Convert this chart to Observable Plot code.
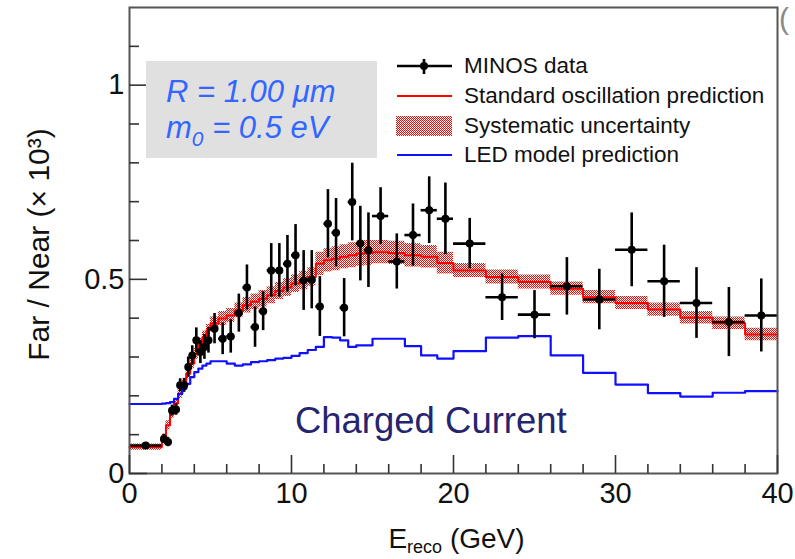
<!DOCTYPE html>
<html>
<head>
<meta charset="utf-8">
<script src="https://cdn.jsdelivr.net/npm/d3@7"></script>
<script src="https://cdn.jsdelivr.net/npm/@observablehq/plot@0.6"></script>
<style>
  html, body { margin: 0; padding: 0; background: #fff; }
  #chart { position: relative; width: 795px; height: 559px; overflow: hidden; }
</style>
</head>
<body>
<div id="chart"></div>
<script>
// Reconstructed-energy bin edges (GeV)
const binEdges = [
  0, 2,
  2.25, 2.5, 2.75, 3, 3.25, 3.5, 3.75, 4, 4.25, 4.5, 4.75, 5,
  5.5, 6, 6.5, 7, 7.5, 8, 8.5, 9, 9.5, 10, 10.5, 11, 11.5, 12, 12.5, 13, 13.5, 14, 14.5, 15,
  16, 17, 18, 19, 20,
  22, 24, 26, 28, 30, 32, 34, 36, 38, 40
];

// Far/Near ratio (x 10^3) for the standard oscillation prediction, per bin
const stdPrediction = [
  0.068,
  0.089, 0.124, 0.154, 0.180, 0.205, 0.231, 0.257, 0.283, 0.308, 0.334, 0.351, 0.369,
  0.386, 0.399, 0.407, 0.420, 0.433, 0.442, 0.450, 0.459, 0.470, 0.479,
  0.489, 0.497, 0.506, 0.540, 0.549, 0.553, 0.558, 0.562, 0.566, 0.568,
  0.570, 0.568, 0.562, 0.558, 0.542,
  0.523, 0.506, 0.493, 0.476, 0.454, 0.439, 0.422, 0.401, 0.387, 0.358
];

// Half-width of the systematic uncertainty band, per bin
const sysUncertainty = [
  0.008,
  0.012, 0.012, 0.012, 0.012, 0.012, 0.012, 0.013, 0.013, 0.014, 0.014, 0.015, 0.015,
  0.017, 0.018, 0.018, 0.019, 0.020, 0.020, 0.021, 0.022, 0.022, 0.023,
  0.023, 0.024, 0.024, 0.030, 0.030, 0.031, 0.031, 0.032, 0.032, 0.032,
  0.030, 0.030, 0.030, 0.029, 0.028,
  0.018, 0.018, 0.018, 0.017, 0.017, 0.017, 0.017, 0.016, 0.016, 0.016
];

// LED model prediction (R = 1.00 um, m0 = 0.5 eV), per bin
const ledPrediction = [
  0.179,
  0.180, 0.181, 0.184, 0.192, 0.205, 0.218, 0.231, 0.248, 0.261, 0.270, 0.278, 0.283,
  0.289, 0.289, 0.283, 0.278, 0.281, 0.287, 0.289, 0.292, 0.296, 0.298,
  0.303, 0.310, 0.318, 0.326, 0.351, 0.350, 0.343, 0.326, 0.330, 0.330,
  0.347, 0.347, 0.328, 0.304, 0.296,
  0.315, 0.350, 0.354, 0.304, 0.259, 0.229, 0.207, 0.198, 0.208, 0.212
];

// MINOS measured Far/Near ratio and its statistical error, per bin
const minosData = [
  0.072,
  0.089, 0.081, 0.162, 0.165, 0.227, 0.227, 0.274, 0.304, 0.343, 0.313, 0.326, 0.343,
  0.373, 0.347, 0.353, 0.413, 0.479, 0.377, 0.418, 0.523, 0.523, 0.540,
  0.562, 0.497, 0.499, 0.430, 0.643, 0.620, 0.427, 0.699, 0.592, 0.575,
  0.663, 0.546, 0.614, 0.678, 0.656,
  0.592, 0.454, 0.409, 0.482, 0.448, 0.576, 0.495, 0.439, 0.390, 0.407
];
const minosError = [
  0.006,
  0.012, 0.012, 0.014, 0.015, 0.017, 0.018, 0.026, 0.025, 0.032, 0.030, 0.032, 0.033,
  0.039, 0.041, 0.043, 0.049, 0.058, 0.052, 0.050, 0.069, 0.069, 0.073,
  0.079, 0.077, 0.075, 0.077, 0.088, 0.088, 0.075, 0.100, 0.096, 0.096,
  0.073, 0.071, 0.080, 0.086, 0.092,
  0.065, 0.060, 0.062, 0.074, 0.078, 0.095, 0.093, 0.091, 0.089, 0.094
];

// Axis ticks
const xMajorTicks = [0, 10, 20, 30, 40];
const xMinorTicks = [2, 4, 6, 8, 12, 14, 16, 18, 22, 24, 26, 28, 32, 34, 36, 38];
const yMajorTicks = [0, 0.5, 1];
const yMinorTicks = [0.1, 0.2, 0.3, 0.4, 0.6, 0.7, 0.8, 0.9, 1.1];

// Text
const legendLabels = ["MINOS data", "Standard oscillation prediction", "Systematic uncertainty", "LED model prediction"];
const xTitle = ["E", "reco", " (GeV)"];
const yTitle = "Far / Near (\u00d7 10\u00b3)";
const channelLabel = "Charged Current";
const paramLines = ["R = 1.00 \u03bcm", "m", "0", " = 0.5 eV"];

// Step-histogram outlines: one point per edge, the last one closing the final bin
const nBins = binEdges.length - 1;
const stepRows = binEdges.map((e, i) => {
  const k = Math.min(i, nBins - 1);
  return {
    x: e,
    std: stdPrediction[k],
    lo: stdPrediction[k] - sysUncertainty[k],
    hi: stdPrediction[k] + sysUncertainty[k],
    led: ledPrediction[k]
  };
});

// Data points at the bin centres, with bin-width horizontal bars
const points = minosData.map((v, i) => ({
  x: (binEdges[i] + binEdges[i + 1]) / 2,
  x1: binEdges[i],
  x2: binEdges[i + 1],
  y: v,
  y1: v - minosError[i],
  y2: v + minosError[i]
}));

const RED = "#ff0000";
const BLUE = "#1010ff";
const FONT = "'Liberation Sans', Arial, Helvetica, sans-serif";

const svg = Plot.plot({
  width: 795,
  height: 559,
  marginLeft: 129,
  marginRight: 18,
  marginTop: 7,
  marginBottom: 86,
  style: { fontFamily: FONT, background: "#fff", color: "#111" },
  x: { domain: [0, 40] },
  y: { domain: [0, 1.2] },
  marks: [
    // systematic band and predictions
    Plot.areaY(stepRows, { x: "x", y1: "lo", y2: "hi", curve: "step-after", fill: "url(#sysDots)" }),
    Plot.line(stepRows, { x: "x", y: "std", curve: "step-after", stroke: RED, strokeWidth: 2 }),
    Plot.line(stepRows, { x: "x", y: "led", curve: "step-after", stroke: BLUE, strokeWidth: 2.2 }),
    // MINOS data with error bars
    Plot.ruleX(points, { x: "x", y1: "y1", y2: "y2", stroke: "#000", strokeWidth: 2.6 }),
    Plot.ruleY(points, { y: "y", x1: "x1", x2: "x2", stroke: "#000", strokeWidth: 2.6 }),
    Plot.dot(points, { x: "x", y: "y", r: 4, fill: "#000", stroke: null }),
    // frame and inward ticks
    Plot.frame({ stroke: "#555", strokeWidth: 2 }),
    Plot.axisY({ ticks: yMajorTicks, tickSize: -18, tickPadding: 23, fontSize: 29, strokeWidth: 1.6, stroke: "#333", tickFormat: d => String(d), label: null }),
    Plot.axisY({ ticks: yMinorTicks, tickSize: -10, strokeWidth: 1.6, stroke: "#333", tickFormat: () => "", label: null }),
    Plot.axisX({ ticks: xMajorTicks, tickSize: -18, tickPadding: 27, fontSize: 29, strokeWidth: 1.6, stroke: "#333", tickFormat: d => String(d), label: null }),
    Plot.axisX({ ticks: xMinorTicks, tickSize: -9, strokeWidth: 1.6, stroke: "#333", tickFormat: () => "", label: null }),
    // axis titles
    Plot.text([yTitle], { frameAnchor: "left", dx: -90, dy: 4, rotate: -90, textAnchor: "middle", lineAnchor: "middle", fontSize: 30, fill: "#111" }),
    Plot.text([xTitle.join("")], { frameAnchor: "bottom", dx: 3, dy: 66, textAnchor: "middle", lineAnchor: "middle", fontSize: 28, fill: "#111" }),
    // channel label
    Plot.text([channelLabel], { x: 18.6, y: 0.135, fontSize: 36.5, fill: "#25256f" })
  ]
});

const root = d3.select(svg);

// dotted fill used by the systematic band
const defs = root.insert("defs", ":first-child");
const pat = defs.append("pattern")
  .attr("id", "sysDots")
  .attr("patternUnits", "userSpaceOnUse")
  .attr("width", 2).attr("height", 2);
pat.append("rect").attr("x", 0).attr("y", 0).attr("width", 1).attr("height", 1).attr("fill", RED);
pat.append("rect").attr("x", 1).attr("y", 1).attr("width", 1).attr("height", 1).attr("fill", RED);

// subscript in the x title
const xt = root.selectAll("text").filter(function () { return this.textContent === xTitle.join(""); });
xt.text(null);
xt.append("tspan").text(xTitle[0]);
xt.append("tspan").style("font-size", "18px").attr("dy", 5).text(xTitle[1]);
xt.append("tspan").attr("dy", -5).text(xTitle[2]);

// legend
const leg = root.append("g")
  .attr("text-anchor", "start")
  .style("font-family", FONT).style("font-size", "22.5px")
  .attr("fill", "#111");
const rowY = [66, 96, 126, 155];
const sx1 = 397, sx2 = 452, tx = 464;
// data swatch
leg.append("line").attr("x1", sx1).attr("x2", sx2).attr("y1", rowY[0]).attr("y2", rowY[0]).attr("stroke", "#000").attr("stroke-width", 2.6);
leg.append("line").attr("x1", 424).attr("x2", 424).attr("y1", rowY[0] - 7).attr("y2", rowY[0] + 8).attr("stroke", "#000").attr("stroke-width", 2.6);
leg.append("circle").attr("cx", 424).attr("cy", rowY[0]).attr("r", 4).attr("fill", "#000");
// prediction swatch
leg.append("line").attr("x1", sx1).attr("x2", sx2).attr("y1", rowY[1]).attr("y2", rowY[1]).attr("stroke", RED).attr("stroke-width", 2);
// band swatch
leg.append("rect").attr("x", sx1 - 1).attr("y", rowY[2] - 10).attr("width", sx2 - sx1 + 1).attr("height", 20).attr("fill", "url(#sysDots)");
// LED swatch
leg.append("line").attr("x1", sx1).attr("x2", sx2).attr("y1", rowY[3]).attr("y2", rowY[3]).attr("stroke", BLUE).attr("stroke-width", 2.2);
legendLabels.forEach((t, i) => {
  leg.append("text").attr("x", tx).attr("y", rowY[i] + 7).text(t);
});

// model parameters box
const box = root.append("g")
  .attr("text-anchor", "start")
  .style("font-family", FONT).style("font-style", "italic").style("font-size", "31px")
  .attr("fill", "#3366ff");
box.append("rect").attr("x", 146).attr("y", 61).attr("width", 231).attr("height", 97).attr("fill", "#e0e0e0");
box.append("text").attr("x", 166).attr("y", 102).text(paramLines[0]);
const m0 = box.append("text").attr("x", 166).attr("y", 138);
m0.append("tspan").text(paramLines[1]);
m0.append("tspan").style("font-size", "21px").attr("dy", 8).text(paramLines[2]);
m0.append("tspan").attr("dy", -8).text(paramLines[3]);

// panel tag at the right edge
root.append("text").attr("x", 779).attr("y", 29).attr("text-anchor", "start")
  .style("font-family", FONT).style("font-size", "30px").attr("fill", "#8a8a8a").text("(");

document.getElementById("chart").appendChild(svg);
</script>
</body>
</html>
